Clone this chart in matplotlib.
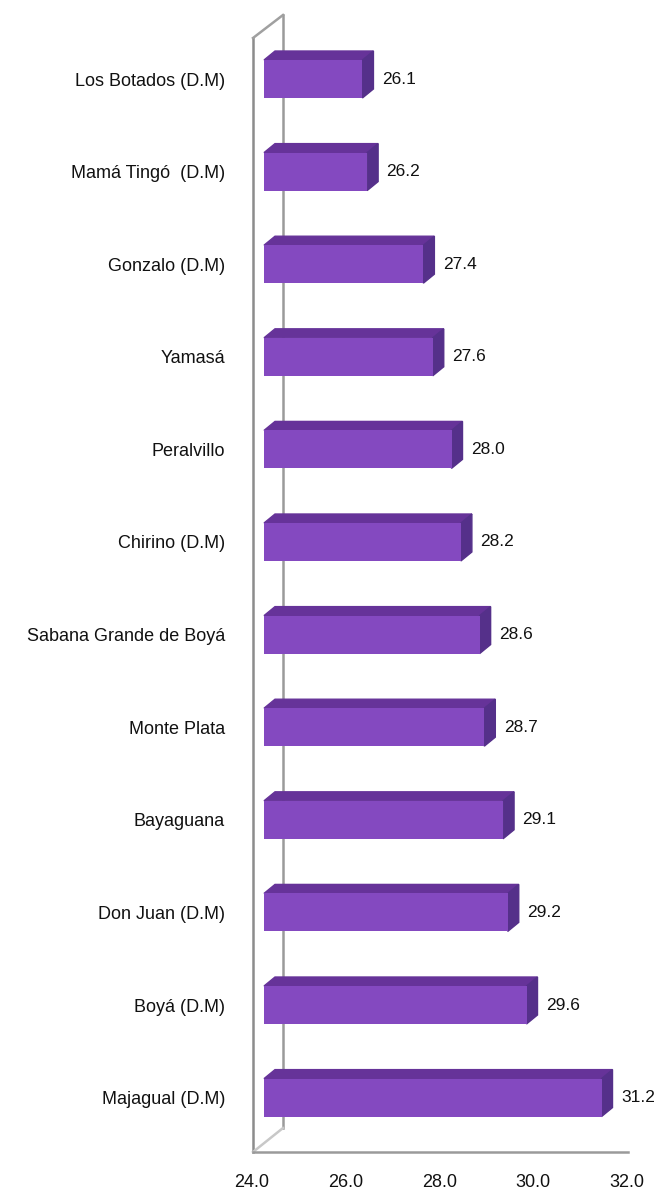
import numpy as np
import matplotlib.pyplot as plt
from matplotlib.transforms import ScaledTranslation

plt.rcParams['font.family'] = ['Liberation Sans', 'DejaVu Sans']

categories = ["Los Botados (D.M)", "Mamá Tingó  (D.M)", "Gonzalo (D.M)", "Yamasá",
              "Peralvillo", "Chirino (D.M)", "Sabana Grande de Boyá", "Monte Plata",
              "Bayaguana", "Don Juan (D.M)", "Boyá (D.M)", "Majagual (D.M)"]
values = [26.1, 26.2, 27.4, 27.6, 28.0, 28.2, 28.6, 28.7, 29.1, 29.2, 29.6, 31.2]
xticks = [24.0, 26.0, 28.0, 30.0, 32.0]

W, H = 664, 1190
fig = plt.figure(figsize=(W / 100, H / 100), dpi=100)

# axes box in pixels (left, top, right, bottom)
L, T, R, B = 264, 30, 639, 1150
ax = fig.add_axes([L / W, 1 - B / H, (R - L) / W, (B - T) / H])

xmin, xmax = 24, 32
first_c, step = 79, 92.6  # pixel centre of first bar, spacing
ax.set_xlim(xmin, xmax)
ax.set_ylim((B - first_c) / step, (T - first_c) / step)

front = "#8449c0"
top = "#663399"
side = "#55308a"

y = np.arange(len(values))
v = np.array(values)
h = 0.41
# depth of the 3d bars in data units (11 px right, 9 px up)
ddx = 11 / ((R - L) / (xmax - xmin))
ddy = 9 / step

ax.barh(y, v - xmin, left=xmin, height=h, color=front, zorder=3)
for yi, vi in zip(y, v):
    y0, y1 = yi - h / 2, yi + h / 2
    ax.fill([xmin, vi, vi + ddx, xmin + ddx], [y0, y0, y0 - ddy, y0 - ddy],
            color=top, zorder=2, clip_on=False)
    ax.fill([vi, vi, vi + ddx, vi + ddx], [y0, y1, y1 - ddy, y0 - ddy],
            color=side, zorder=2, clip_on=False)
    ax.annotate(f"{vi:.1f}", (vi, yi), xytext=(14, 0), textcoords="offset points",
                ha="left", va="center", fontsize=12.5, color="#111111",
                annotation_clip=False)

ax.set_yticks(y)
ax.set_yticklabels(categories, fontsize=13, color="#111111")
ax.set_xticks(xticks)
ax.set_xticklabels([f"{t:.1f}" for t in xticks], fontsize=13, color="#111111")
ax.tick_params(axis="y", length=0, pad=28)
ax.tick_params(axis="x", length=0, pad=17)
shift = ScaledTranslation(-12 / 100, 0, fig.dpi_scale_trans)
for lab in ax.get_xticklabels():
    lab.set_transform(lab.get_transform() + shift)

for s in ax.spines.values():
    s.set_visible(False)
ax.patch.set_visible(False)

# 3d frame (walls and floor) in figure pixels, drawn behind the bars
def fl(xs, ys, **kw):
    fig.add_artist(plt.Line2D([x / W for x in xs], [1 - yy / H for yy in ys],
                              transform=fig.transFigure, zorder=-1, **kw))

fl([253, 253], [38, 1152], color="#8c8c8c", lw=1.8)
fl([283, 283], [15, 1128], color="#9a9a9a", lw=1.8)
fl([253, 283], [38, 15], color="#a0a0a0", lw=1.8)
fl([253, 283], [1152, 1128], color="#c8c8c8", lw=1.8)
fl([253, 628], [1152, 1152], color="#9a9a9a", lw=1.8)

fig.savefig("out.png", dpi=100)
